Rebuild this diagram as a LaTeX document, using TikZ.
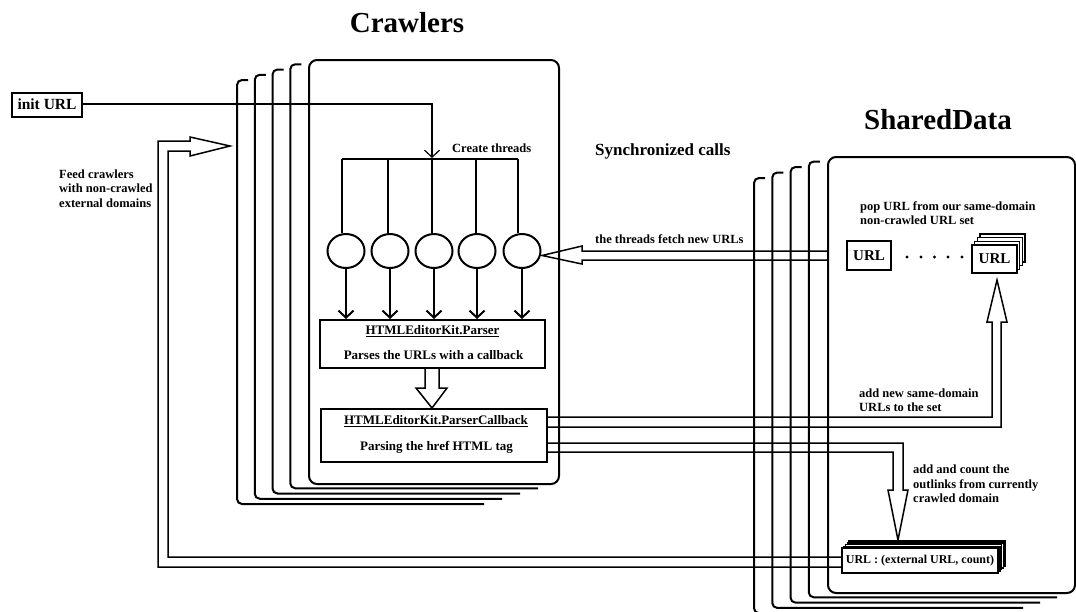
\documentclass[tikz,border=0pt]{standalone}
\usepackage{fontspec}
\setmainfont{Liberation Serif}
\usetikzlibrary{arrows.meta,shapes.geometric,calc}
\begin{document}
\begin{tikzpicture}[x=1pt,y=-1pt,
  card/.style={draw, line width=2pt, rounded corners=8pt, fill=white, inner sep=0pt},
  backcard/.style={line width=2pt, rounded corners=5pt},
  lbl/.style={font=\bfseries\fontsize{12.5}{14.5}\selectfont, align=left, inner sep=0pt},
  box/.style={draw, line width=2pt, fill=white, inner sep=0pt},
  boxtxt/.style={font=\bfseries\fontsize{13}{15}\selectfont, align=center},
  thinline/.style={line width=1.2pt},
  hollow/.style={line width=1.5pt, line join=miter},
  thread/.style={draw, ellipse, line width=2pt, minimum width=37pt, minimum height=34pt, inner sep=0pt},
  vtip/.style={-{Straight Barb[length=7pt,width=15pt]}},
  title/.style={font=\bfseries\fontsize{29}{32}\selectfont, inner sep=0pt}
]
\useasboundingbox (0,0) rectangle (1076,611);

% ---------- Crawlers stack ----------
\foreach \k in {4,3,2,1} {
  \pgfmathsetmacro\L{308-17.75*\k}
  \pgfmathsetmacro\T{59+5.25*\k}
  \pgfmathsetmacro\B{483+5.25*\k}
  \pgfmathsetmacro\E{556-18*\k}
  \draw[backcard] (\L+11,\T) -- (\L,\T) -- (\L,\B) -- (\E,\B);
}
\node[card, anchor=north west, minimum width=250pt, minimum height=424pt] (crmain) at (308,59) {};

% ---------- SharedData stack ----------
\foreach \k in {4,3,2,1} {
  \pgfmathsetmacro\L{827-18.25*\k}
  \pgfmathsetmacro\T{156+5.5*\k}
  \pgfmathsetmacro\B{592+5.3*\k}
  \pgfmathsetmacro\E{1074-17*\k}
  \draw[backcard] (\L+11,\T) -- (\L,\T) -- (\L,\B) -- (\E,\B);
}
\node[card, anchor=north west, minimum width=247pt, minimum height=436pt] (sdmain) at (827,156) {};

% ---------- titles ----------
\node[title, anchor=base] (tcr) at (407,32) {Crawlers};
\node[title, anchor=base] (tsd) at (938,129) {SharedData};
\node[font=\bfseries\fontsize{17}{20}\selectfont, inner sep=0pt, anchor=base west] (sync) at (595,155) {Synchronized calls};

% ---------- init URL ----------
\node[box, minimum width=70pt, minimum height=24pt, font=\bfseries\fontsize{15.5}{18}\selectfont] (init) at (47,104.5) {init URL};

% ---------- threads ----------
\coordinate (b1) at (342,159);
\coordinate (b2) at (388,159);
\coordinate (b3) at (432,159);
\coordinate (b4) at (476,159);
\coordinate (b5) at (518,159);
\node[thread] (c1) at (346,251) {};
\node[thread] (c2) at (390,251) {};
\node[thread] (c3) at (434,251) {};
\node[thread] (c4) at (477,251) {};
\node[thread] (c5) at (522,251) {};
\draw[thinline] (b1) -- (b5);
\foreach \i in {1,...,5} { \draw[thinline] (b\i) -- (b\i |- c\i.north); }
\draw[thinline, vtip] (init.east |- 0,104) -| ($(b3)+(0,-1)$);
\node[lbl, anchor=west] (ct) at (452,148) {Create threads};

% ---------- parser boxes ----------
\node[box, minimum width=225pt, minimum height=48pt] (parser) at (432.5,344) {};
\node[boxtxt, inner sep=0pt] (ptitle) at (432.5,331) {\underline{HTMLEditorKit.Parser}};
\node[boxtxt, inner sep=0pt] (ptext) at (433.5,355) {Parses the URLs with a callback};
\node[box, minimum width=226pt, minimum height=53pt] (cb) at (434,435.5) {};
\node[boxtxt, inner sep=0pt] (cbtitle) at (436,421) {\underline{HTMLEditorKit.ParserCallback}};
\node[boxtxt, inner sep=0pt] (cbtext) at (436.5,447) {Parsing the href HTML tag};

\foreach \i in {1,...,5} { \draw[line width=2pt, vtip] (c\i.south) -- (c\i.south |- parser.north); }

\draw[hollow] (parser.south -| 425,0) -- (425,388) -- (416,388) -- (cb.north -| 432,0) -- (447,388) -- (439,388) -- (parser.south -| 439,0);

% ---------- URL set ----------
\node[box, minimum width=44pt, minimum height=29pt, font=\bfseries\fontsize{15}{18}\selectfont] (url1) at (869,255.5) {URL};
\foreach \k in {3,2,1} {
  \draw[line width=1.5pt, fill=white] (972+2.7*\k,245-3.7*\k) rectangle (1017+2.7*\k,273-3.7*\k);
}
\node[box, minimum width=45pt, minimum height=28pt, font=\bfseries\fontsize{15}{18}\selectfont] (url2) at (994.5,259) {URL};
\foreach \x in {907,921,934.5,948,962} { \fill (\x,257) circle (1.6pt); }
\node[lbl, anchor=west] (pop) at (860,213) {pop URL from our same-domain\\non-crawled URL set};

% ---------- external URL box ----------
\foreach \k in {4,3,2,1} {
  \draw[line width=1.5pt, fill=white] (842+1.75*\k,548-1.75*\k) rectangle (998+1.75*\k,573-1.75*\k);
}
\node[box, minimum width=156pt, minimum height=25pt, font=\bfseries\fontsize{12}{14}\selectfont] (ext) at (920,560.5) {URL : (external URL, count)};

% ---------- hollow connectors ----------
% fetch new URLs
\draw[hollow] (sdmain.west |- 0,251) -- (582,251) -- (582,246) -- (542,255.5) -- (582,264) -- (582,260) -- (sdmain.west |- 0,260);
\node[lbl, anchor=west] (fetch) at (595,239) {the threads fetch new URLs};
% add new same-domain URLs
\draw[hollow] (cb.east |- 0,417) -- (992,417) -- (992,322) -- (987,322) -- (997,280) -- (1007,322) -- (1001,322) -- (1001,427) -- (cb.east |- 0,427);
\node[lbl, anchor=west] (addnew) at (859,400) {add new same-domain\\URLs to the set};
% outlinks
\draw[hollow] (cb.east |- 0,443) -- (903,443) -- (903,490) -- (908,490) -- (898,540) -- (888,490) -- (893,490) -- (893,452) -- (cb.east |- 0,452);
\node[lbl, anchor=west] (addcount) at (913,484) {add and count the\\outlinks from currently\\crawled domain};
% feed crawlers
\draw[hollow] (ext.west |- 0,557) -- (168,557) -- (168,151) -- (190,151) -- (190,156) -- (230,146) -- (190,137) -- (190,141) -- (158,141) -- (158,567) -- (ext.west |- 0,567);
\node[lbl, anchor=west] (feed) at (59,188.5) {Feed crawlers\\with non-crawled\\external domains};
\end{tikzpicture}
\end{document}
